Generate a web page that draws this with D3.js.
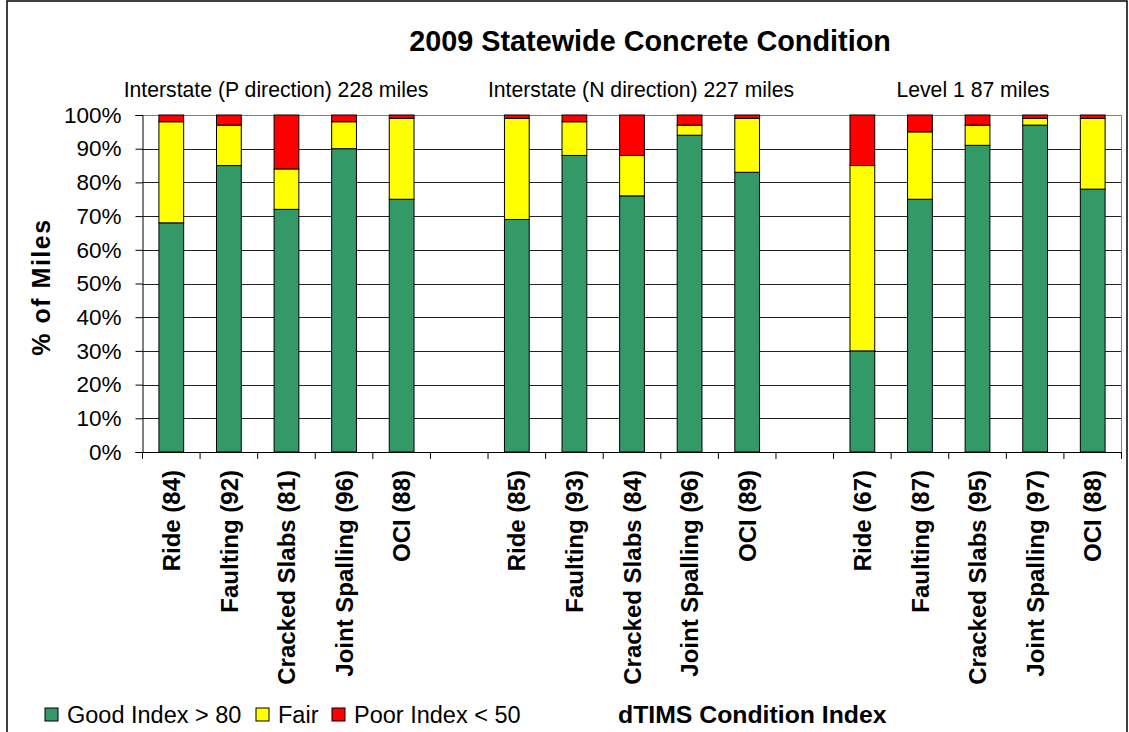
<!DOCTYPE html>
<html>
<head>
<meta charset="utf-8">
<script src="https://cdn.jsdelivr.net/npm/d3@7/dist/d3.min.js"></script>
<style>
html,body{margin:0;padding:0;background:#fff;}
text{font-family:"Liberation Sans", Arial, sans-serif;fill:#000;}
</style>
</head>
<body>
<svg id="chart" width="1129" height="732"></svg>
<script>
const title = "2009 Statewide Concrete Condition";
const groupLabels = ["Interstate (P direction) 228 miles", "Interstate (N direction) 227 miles", "Level 1 87 miles"];
const indexLabels = [
  "Ride (84)","Faulting (92)","Cracked Slabs (81)","Joint Spalling (96)","OCI (88)",
  "Ride (85)","Faulting (93)","Cracked Slabs (84)","Joint Spalling (96)","OCI (89)",
  "Ride (67)","Faulting (87)","Cracked Slabs (95)","Joint Spalling (97)","OCI (88)"
];
const good = [68,85,72,90,75, 69,88,76,94,83, 30,75,91,97,78];
const fair = [30,12,12,8,24, 30,10,12,3,16, 55,20,6,2,21];
const poor = [2,3,16,2,1, 1,2,12,3,1, 15,5,3,1,1];
const seriesNames = ["Good Index > 80","Fair","Poor Index < 50"];
const seriesKeys = ["good","fair","poor"];
const colors = ["#339966","#FFFF00","#FF0000"];
const yTicks = [0,10,20,30,40,50,60,70,80,90,100];
const xTitle = "dTIMS Condition Index";
const yTitle = "% of Miles";

const svg = d3.select("#chart");

// outer frame
svg.append("rect").attr("x",7).attr("y",1).attr("width",1120).attr("height",740)
  .attr("fill","none").attr("stroke","#000").attr("stroke-width",1.5);

const pL = 142.5, pR = 1121.5, pT = 115, pB = 452;
// 17 slots: 5 categories, gap, 5, gap, 5
const slotOf = i => Math.floor(i/5)*6 + (i%5);
const x = d3.scaleBand().domain(d3.range(17)).range([pL,pR]).padding(0);
const y = d3.scaleLinear().domain([0,100]).range([pB, pT]);

// gridlines
svg.append("g").selectAll("line").data(yTicks.filter(t=>t>0)).join("line")
  .attr("x1",pL).attr("x2",pR)
  .attr("y1",d=>Math.round(y(d))+0.5).attr("y2",d=>Math.round(y(d))+0.5)
  .attr("stroke",d=>d===100?"#808080":"#222").attr("stroke-width",1);
// right border of plot
svg.append("line").attr("x1",pR).attr("x2",pR).attr("y1",pT).attr("y2",pB)
  .attr("stroke","#808080");

// stacked bars
const rows = good.map((g,i)=>({i, good:g, fair:fair[i], poor:poor[i]}));
const stack = d3.stack().keys(seriesKeys)(rows);
const bw = x.bandwidth()*0.43;
stack.forEach((s,k)=>{
  svg.append("g").selectAll("rect").data(s).join("rect")
    .attr("x",d=>x(slotOf(d.data.i)) + x.bandwidth()/2 - bw/2)
    .attr("width",bw)
    .attr("y",d=>y(d[1]))
    .attr("height",d=>y(d[0])-y(d[1]))
    .attr("fill",colors[k]).attr("stroke","#000").attr("stroke-width",1);
});

// y axis
const yAxis = d3.axisLeft(y).tickValues(yTicks).tickFormat(d=>d+"%").tickSize(7).tickPadding(14);
const gy = svg.append("g").attr("transform",`translate(${pL},0)`).call(yAxis);
gy.select(".domain").attr("stroke","#000");
gy.selectAll(".tick line").attr("stroke","#000");
gy.selectAll("text").attr("font-size","22.5px").attr("font-family","Liberation Sans, Arial, sans-serif").attr("fill","#000");

// x axis with ticks between categories
const gx = svg.append("g");
gx.append("line").attr("x1",pL).attr("x2",pR).attr("y1",pB+0.5).attr("y2",pB+0.5).attr("stroke","#000");
gx.selectAll("line.tk").data(d3.range(18)).join("line").attr("class","tk")
  .attr("x1",d=>d<17?x(d):pR).attr("x2",d=>d<17?x(d):pR)
  .attr("y1",pB).attr("y2",pB+7).attr("stroke","#000");
gx.selectAll("text").data(indexLabels).join("text")
  .attr("transform",(d,i)=>`translate(${x(slotOf(i))+x.bandwidth()/2},470) rotate(-90)`)
  .attr("text-anchor","end").attr("dy","0.36em")
  .attr("font-size","24px").attr("font-weight","bold").text(d=>d);

// title
svg.append("text").attr("x",650).attr("y",51).attr("text-anchor","middle")
  .attr("font-size","28.8px").attr("font-weight","bold").text(title);
// group labels
const groupCenters = [276, 641, 973];
svg.selectAll("text.grp").data(groupLabels).join("text").attr("class","grp")
  .attr("x",(d,i)=>groupCenters[i]).attr("y",97).attr("text-anchor","middle")
  .attr("font-size","21.2px").text(d=>d);

// y title
svg.append("text").attr("transform","translate(50,287) rotate(-90)")
  .attr("text-anchor","middle").attr("font-size","25px").attr("font-weight","bold")
  .attr("letter-spacing","1.5px").text(yTitle);

// x title
svg.append("text").attr("x",618).attr("y",723).attr("font-size","24.8px").attr("font-weight","bold").text(xTitle);

// legend
const legX = [45, 256, 332];
const lg = svg.selectAll("g.leg").data(seriesNames).join("g").attr("class","leg")
  .attr("transform",(d,i)=>`translate(${legX[i]},708)`);
lg.append("rect").attr("width",13).attr("height",13).attr("fill",(d,i)=>colors[i]).attr("stroke","#000");
lg.append("text").attr("x",22).attr("y",14.5).attr("font-size","23.5px").text(d=>d);
</script>
</body>
</html>
